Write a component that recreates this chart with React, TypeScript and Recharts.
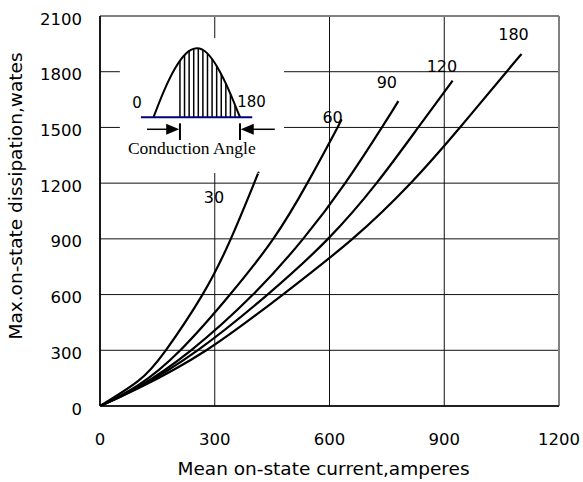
import {
  CartesianGrid,
  Line,
  LineChart,
  ReferenceArea,
  ReferenceDot,
  ReferenceLine,
  XAxis,
  YAxis,
} from "recharts";

// conduction angles (degrees) shown next to each curve
const ANGLES = ["30", "60", "90", "120", "180"];

// mean on-state current (A) / max dissipation (W)
const I_30 = [0, 100, 172, 268, 342, 403, 414];
const P_30 = [0, 135, 300, 600, 900, 1200, 1255];
const I_60 = [0, 100, 210, 340, 453, 542, 621, 626];
const P_60 = [0, 112, 300, 600, 900, 1200, 1500, 1522];
const I_90 = [0, 100, 238, 400, 531, 641, 737, 780];
const P_90 = [0, 103, 300, 600, 900, 1200, 1500, 1642];
const I_120 = [0, 100, 255, 438, 596, 723, 832, 922];
const P_120 = [0, 100, 300, 600, 900, 1200, 1500, 1752];
const I_180 = [0, 100, 278, 478, 660, 812, 941, 1063, 1102];
const P_180 = [0, 95, 300, 600, 900, 1200, 1500, 1800, 1895];

const X_TICKS = [0, 300, 600, 900, 1200];
const Y_TICKS = [0, 300, 600, 900, 1200, 1500, 1800, 2100];

// where the angle labels sit (axis units)
const LABEL_X = [298, 608, 750, 894, 1081];
const LABEL_Y = [1123, 1553, 1742, 1832, 2000];

// inset sketch: half sine wave with the hatched conduction part
const WAVE_X = [140, 167, 196, 225, 253, 280, 308, 337, 366];
const WAVE_Y = [1555, 1695, 1817, 1898, 1926, 1900, 1820, 1700, 1555];
const HATCH_X = [209, 221, 233, 245, 257, 269, 281, 293, 305, 317, 329, 341, 353, 365];
const HATCH_TOP = [1860, 1890, 1912, 1924, 1926, 1916, 1898, 1870, 1832, 1787, 1737, 1681, 1621, 1560];
const BASE_Y = 1555;
const ARROW_Y = 1490;

const W = 583;
const H = 482;
const SANS = "DejaVu Sans";

const pairs = (xs: number[], ys: number[]) => xs.map((x, i) => ({ x, y: ys[i] }));

const CURVES = [
  pairs(I_30, P_30),
  pairs(I_60, P_60),
  pairs(I_90, P_90),
  pairs(I_120, P_120),
  pairs(I_180, P_180),
];
const WAVE = pairs(WAVE_X, WAVE_Y);

function YTick({ x, y, payload }: any) {
  return (
    <text x={x} y={y + 8.5} textAnchor="end" fontFamily={SANS} fontSize={16.5} fill="#000">
      {payload.value}
    </text>
  );
}

function XTick({ x, y, payload }: any) {
  return (
    <text x={x} y={y + 39} textAnchor="middle" fontFamily={SANS} fontSize={16.5} fill="#000">
      {payload.value}
    </text>
  );
}

const textShape =
  (txt: string, size: number, family = SANS) =>
  (p: any) => (
    <text x={p.cx} y={p.cy} dy="0.36em" textAnchor="middle" fontFamily={family} fontSize={size} fill="#000">
      {txt}
    </text>
  );

const arrowHead = (dir: 1 | -1) => (p: any) => (
  <polygon
    points={`${p.cx},${p.cy} ${p.cx - dir * 13},${p.cy - 5.5} ${p.cx - dir * 13},${p.cy + 5.5}`}
    fill="#000"
  />
);

export default function App() {
  return (
    <div style={{ position: "absolute", left: 0, top: 0, width: W, height: H, background: "#fff" }}>
      <LineChart width={W} height={H} margin={{ top: 16, right: 24, left: 40, bottom: 36 }}>
        <CartesianGrid stroke="#111" strokeWidth={1} />
        <XAxis
          type="number"
          dataKey="x"
          domain={[0, 1200]}
          ticks={X_TICKS}
          height={40}
          tickSize={0}
          tickMargin={0}
          tickLine={false}
          axisLine={{ stroke: "#000", strokeWidth: 1.6 }}
          tick={<XTick />}
          allowDataOverflow
        />
        <YAxis
          type="number"
          domain={[0, 2100]}
          ticks={Y_TICKS}
          width={60}
          tickSize={0}
          tickMargin={18}
          tickLine={false}
          axisLine={{ stroke: "#000", strokeWidth: 1.6 }}
          tick={<YTick />}
          allowDataOverflow
        />
        <ReferenceLine y={2100} stroke="#808080" strokeWidth={2} />
        <ReferenceLine x={1200} stroke="#808080" strokeWidth={2} />
        <ReferenceArea x1={52} x2={481} y1={1255} y2={1982} fill="#fff" fillOpacity={1} stroke="none" />

        {CURVES.map((c, i) => (
          <Line
            key={ANGLES[i]}
            data={c}
            dataKey="y"
            type="natural"
            stroke="#000"
            strokeWidth={2.2}
            dot={false}
            isAnimationActive={false}
          />
        ))}

        <Line
          data={WAVE}
          dataKey="y"
          type="natural"
          stroke="#000"
          strokeWidth={2}
          dot={false}
          isAnimationActive={false}
        />
        {HATCH_X.map((hx, i) => (
          <ReferenceLine
            key={"h" + hx}
            segment={[
              { x: hx, y: BASE_Y },
              { x: hx, y: HATCH_TOP[i] },
            ]}
            stroke="#000"
            strokeWidth={1.5}
          />
        ))}
        <ReferenceLine
          segment={[
            { x: 107, y: BASE_Y },
            { x: 398, y: BASE_Y },
          ]}
          stroke="#000080"
          strokeWidth={2}
        />
        <ReferenceLine
          segment={[
            { x: 123, y: ARROW_Y },
            { x: 180, y: ARROW_Y },
          ]}
          stroke="#000"
          strokeWidth={1.5}
        />
        <ReferenceLine
          segment={[
            { x: 395, y: ARROW_Y },
            { x: 457, y: ARROW_Y },
          ]}
          stroke="#000"
          strokeWidth={1.5}
        />
        <ReferenceLine
          segment={[
            { x: 209, y: 1432 },
            { x: 209, y: 1522 },
          ]}
          stroke="#000"
          strokeWidth={2}
        />
        <ReferenceLine
          segment={[
            { x: 366, y: 1432 },
            { x: 366, y: 1522 },
          ]}
          stroke="#000"
          strokeWidth={2}
        />
        <ReferenceDot x={207} y={ARROW_Y} r={6} shape={arrowHead(1)} />
        <ReferenceDot x={368} y={ARROW_Y} r={6} shape={arrowHead(-1)} />

        <ReferenceDot x={97} y={1634} r={6} shape={textShape("0", 15)} />
        <ReferenceDot x={396} y={1640} r={6} shape={textShape("180", 15)} />
        <ReferenceDot x={240} y={1393} r={6} shape={textShape("Conduction Angle", 17.5, "Liberation Serif")} />

        {ANGLES.map((a, i) => (
          <ReferenceDot key={"l" + a} x={LABEL_X[i]} y={LABEL_Y[i]} r={6} shape={textShape(a, 16)} />
        ))}
      </LineChart>
      <svg
        width={W}
        height={H}
        style={{ position: "absolute", left: 0, top: 0, pointerEvents: "none" }}
      >
        <text x={323.5} y={475} textAnchor="middle" fontFamily={SANS} fontSize={18.5} fill="#000">
          Mean on-state current,amperes
        </text>
        <text
          x={22}
          y={196}
          transform="rotate(-90 22 196)"
          textAnchor="middle"
          fontFamily={SANS}
          fontSize={18.5}
          fill="#000"
        >
          Max.on-state dissipation,wates
        </text>
      </svg>
    </div>
  );
}
